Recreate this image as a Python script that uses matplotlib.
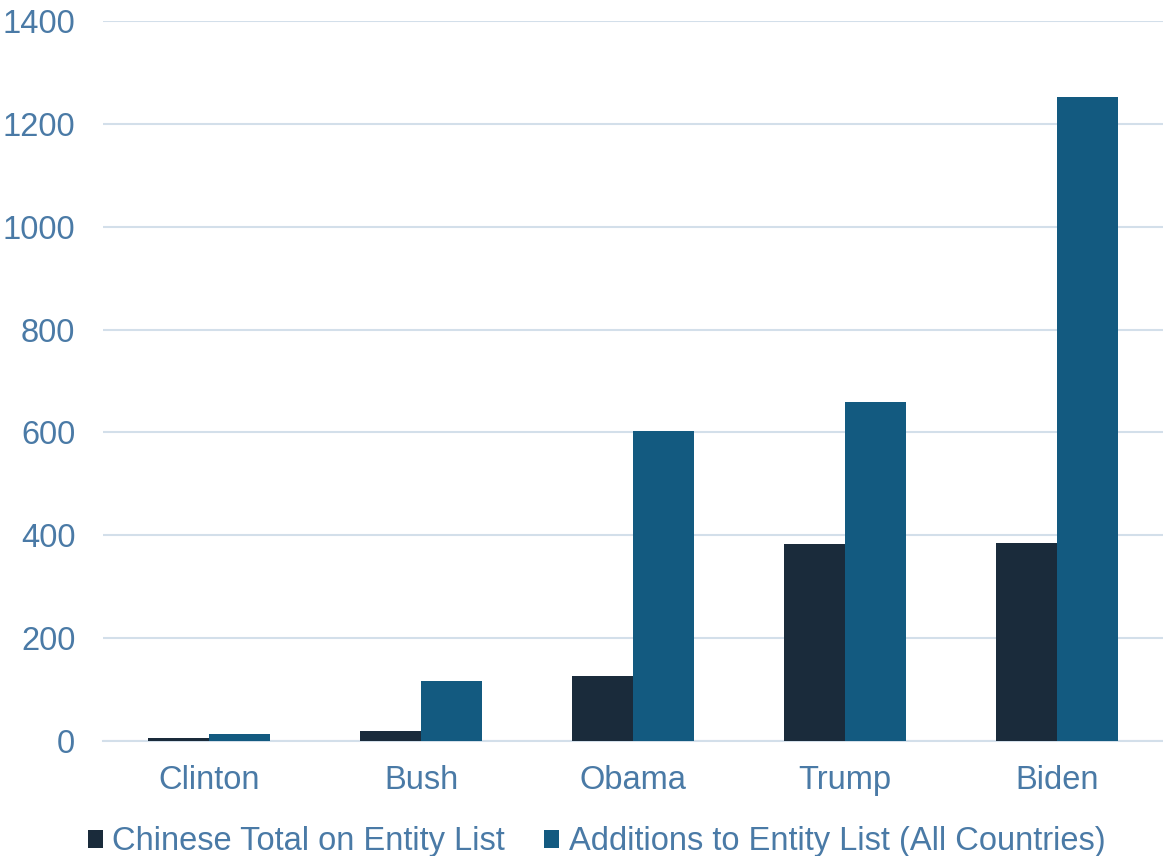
import matplotlib
matplotlib.use("Agg")
import matplotlib.pyplot as plt
import numpy as np

categories = ["Clinton", "Bush", "Obama", "Trump", "Biden"]
chinese_total = [6, 20, 126, 383, 385]
additions_all = [14, 117, 603, 659, 1252]
series_names = ["Chinese Total on Entity List", "Additions to Entity List (All Countries)"]
yticks = [0, 200, 400, 600, 800, 1000, 1200, 1400]

dark = "#1a2b3b"
blue = "#135a80"
text_color = "#4a7aa6"
grid_color = "#d3dfea"

plt.rcParams['font.family'] = ['Liberation Sans', 'DejaVu Sans']

fig = plt.figure(figsize=(11.63, 8.56), dpi=100)
ax = fig.add_axes([0.0886, 0.1343, 0.9114, 0.8412])

x = np.arange(len(categories))
w = 0.287
ax.bar(x - w/2, chinese_total, w, color=dark, label=series_names[0], zorder=3)
ax.bar(x + w/2, additions_all, w, color=blue, label=series_names[1], zorder=3)

ax.set_xlim(-0.5, len(categories) - 0.5)
ax.set_ylim(0, 1400)
ax.set_yticks(yticks)
ax.set_xticks(x)
ax.set_xticklabels(categories)
ax.yaxis.grid(True, color=grid_color, linewidth=1.5, zorder=0)
ax.set_axisbelow(True)
for s in ["top", "right", "left"]:
    ax.spines[s].set_visible(False)
ax.spines["bottom"].set_color(grid_color)
ax.spines["bottom"].set_linewidth(1.5)
ax.tick_params(axis="both", length=0, labelsize=23.5, colors=text_color)
ax.tick_params(axis="x", pad=17)
ax.tick_params(axis="y", pad=20)

leg = fig.legend(loc="lower center", bbox_to_anchor=(0.513, -0.036), ncol=2, frameon=False,
                 fontsize=23.5, handlelength=0.45, handleheight=0.45, handletextpad=0.3,
                 columnspacing=1.2, labelcolor=text_color)

fig.savefig("out.png", dpi=100)
